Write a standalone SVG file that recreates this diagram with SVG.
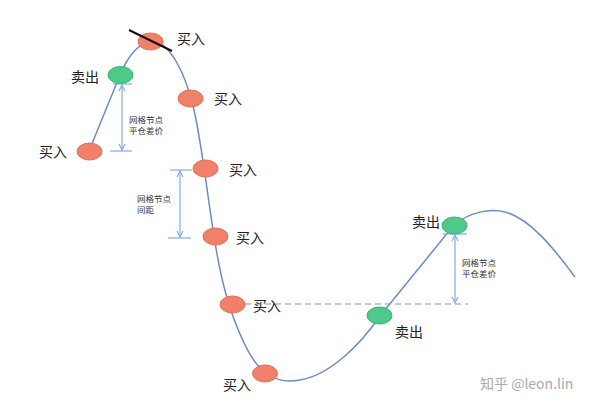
<svg xmlns="http://www.w3.org/2000/svg" width="603" height="412" viewBox="0 0 603 412">
<style>
.curve{fill:none;stroke:#6b8cc2;stroke-width:1.5}
.buy{fill:#f0806a;stroke:#e56f56;stroke-width:1}
.sell{fill:#4dc98a;stroke:#3bb073;stroke-width:1}
.lbl{font-family:"Noto Sans CJK SC","Noto Sans",sans-serif;font-size:14px;fill:#222}
.small{font-family:"Noto Sans CJK SC","Noto Sans",sans-serif;font-size:8.5px;fill:#333}
.dim{stroke:#86abe3;stroke-width:1.2;fill:none}
.wm{font-family:"Noto Sans CJK SC","Noto Sans",sans-serif;font-size:14px;fill:#aaa}
</style>
<defs>
<marker id="ah" markerWidth="8" markerHeight="8" refX="7" refY="4" orient="auto-start-reverse" markerUnits="userSpaceOnUse">
<path d="M1,1 L7,4 L1,7" fill="none" stroke="#86abe3" stroke-width="1.2"/>
</marker>
</defs>
<rect width="603" height="412" fill="#fff"/>
<g id="connectors">
<path class="curve" d="M89 151 L120 75 Q132 46 150 41 C170 40 186 75 194 110 C202 145 208 200 214 236 C220 275 228 310 245 345 C258 372 275 385 300 380 C330 375 360 345 380 316 L454 225 C470 212 490 208 505 212 C530 218 555 250 575 277"/>
<line x1="245" y1="304" x2="468" y2="304" stroke="#8193b0" stroke-width="1.2" stroke-dasharray="6,4"/>
<g id="dim1">
<line class="dim" x1="113" y1="84" x2="132" y2="84"/>
<line class="dim" x1="110" y1="151" x2="132" y2="151"/>
<line class="dim" x1="122" y1="85" x2="122" y2="150" marker-start="url(#ah)" marker-end="url(#ah)"/>
</g>
<g id="dim2">
<line class="dim" x1="170" y1="170" x2="192" y2="170"/>
<line class="dim" x1="168" y1="238" x2="191" y2="238"/>
<line class="dim" x1="180" y1="171" x2="180" y2="237" marker-start="url(#ah)" marker-end="url(#ah)"/>
</g>
<g id="dim3">
<line class="dim" x1="443" y1="234" x2="467" y2="234"/>
<line class="dim" x1="455" y1="235" x2="455" y2="303" marker-start="url(#ah)" marker-end="url(#ah)"/>
</g>
</g>
<g id="n-buy-top"><ellipse class="buy" cx="150.5" cy="41.5" rx="12.5" ry="8.5"/><text class="lbl" x="177" y="44">买入</text></g>
<line x1="129" y1="30" x2="172" y2="51" stroke="#111" stroke-width="2"/>
<g id="n-sell-1"><ellipse class="sell" cx="120.5" cy="75" rx="12.5" ry="8.5"/><text class="lbl" x="71" y="82">卖出</text></g>
<g id="n-buy-2"><ellipse class="buy" cx="190.5" cy="98.5" rx="12.5" ry="8.5"/><text class="lbl" x="214" y="104">买入</text></g>
<g id="n-buy-left"><ellipse class="buy" cx="89.5" cy="151.5" rx="12.5" ry="8.5"/><text class="lbl" x="39" y="157">买入</text></g>
<g id="n-buy-3"><ellipse class="buy" cx="205.5" cy="168.5" rx="12.5" ry="8.5"/><text class="lbl" x="229" y="175">买入</text></g>
<g id="n-buy-4"><ellipse class="buy" cx="215.5" cy="236.5" rx="12.5" ry="8.5"/><text class="lbl" x="236" y="243">买入</text></g>
<g id="n-buy-5"><ellipse class="buy" cx="232.5" cy="304.5" rx="12.5" ry="8.5"/><text class="lbl" x="253" y="311">买入</text></g>
<g id="n-buy-bottom"><ellipse class="buy" cx="265" cy="373.5" rx="12.5" ry="8.5"/><text class="lbl" x="223" y="390">买入</text></g>
<g id="n-sell-2"><ellipse class="sell" cx="379.5" cy="315.5" rx="12.5" ry="8.5"/><text class="lbl" x="395" y="337">卖出</text></g>
<g id="n-sell-3"><ellipse class="sell" cx="454.5" cy="225.5" rx="12.5" ry="8.5"/><text class="lbl" x="412" y="227">卖出</text></g>
<g id="t1"><text class="small" x="129" y="123">网格节点</text><text class="small" x="129" y="134">平仓差价</text></g>
<g id="t2"><text class="small" x="137" y="202">网格节点</text><text class="small" x="137" y="213">间距</text></g>
<g id="t3"><text class="small" x="462" y="266">网格节点</text><text class="small" x="462" y="277">平仓差价</text></g>
<text class="wm" x="480" y="389">知乎 @leon.lin</text>
</svg>
